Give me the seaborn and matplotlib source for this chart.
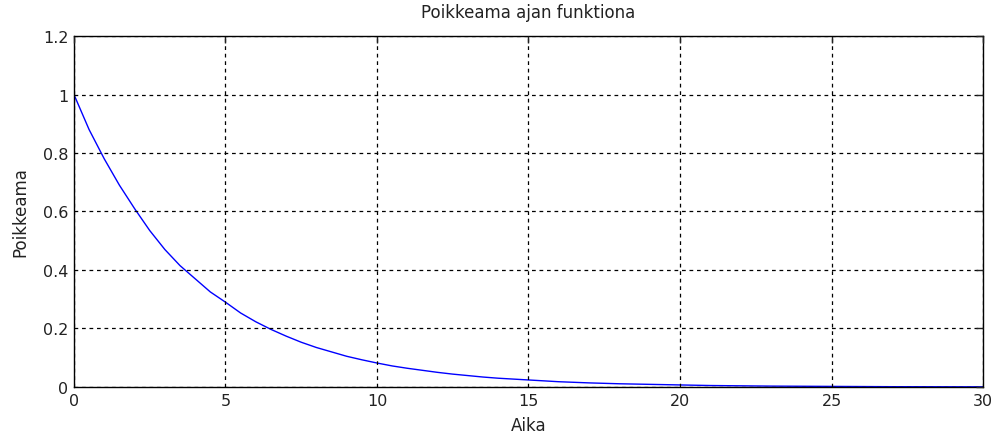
import matplotlib
matplotlib.use("Agg")
import matplotlib.pyplot as plt
import seaborn as sns
import pandas as pd

# Values
aika = [0, 0.5, 1, 1.5, 2, 2.5, 3, 3.5, 4, 4.5, 5, 5.5, 6, 6.5, 7, 7.5, 8, 8.5,
        9, 9.5, 10, 10.5, 11, 11.5, 12, 12.5, 13, 13.5, 14, 14.5, 15,
        16, 17, 18, 19, 20, 21, 22, 23, 24, 25, 26, 27, 28, 29, 30]
poikkeama = [1.0, 0.88, 0.78, 0.69, 0.61, 0.535, 0.47, 0.415, 0.37, 0.325,
             0.29, 0.253, 0.223, 0.197, 0.174, 0.153, 0.135, 0.12,
             0.105, 0.093, 0.082, 0.072, 0.064, 0.057, 0.050, 0.044, 0.039, 0.034,
             0.030, 0.027, 0.024,
             0.018, 0.014, 0.011, 0.009, 0.007, 0.005, 0.004, 0.003, 0.0025,
             0.002, 0.0015, 0.001, 0.0009, 0.0007, 0.0006]
x_ticks = [0, 5, 10, 15, 20, 25, 30]
x_labels = ["0", "5", "10", "15", "20", "25", "30"]
y_ticks = [0, 0.2, 0.4, 0.6, 0.8, 1.0, 1.2]
y_labels = ["0", "0.2", "0.4", "0.6", "0.8", "1", "1.2"]
title = "Poikkeama ajan funktiona"
xlabel = "Aika"
ylabel = "Poikkeama"

sns.set_style("white")
plt.rcParams['font.family'] = ['DejaVu Sans']

df = pd.DataFrame({"Aika": aika, "Poikkeama": poikkeama})

fig = plt.figure(figsize=(9.98, 4.39), dpi=100)
ax = fig.add_axes([0.0741, 0.1162, 0.9109, 0.7995])
sns.lineplot(data=df, x="Aika", y="Poikkeama", ax=ax, color="#0000ff", linewidth=1.0)

ax.set_xlim(0, 30)
ax.set_ylim(0, 1.2)
ax.set_xticks(x_ticks)
ax.set_xticklabels(x_labels)
ax.set_yticks(y_ticks)
ax.set_yticklabels(y_labels)
ax.grid(True, color="black", linestyle=(0, (3, 3)), linewidth=0.9)
ax.set_axisbelow(False)
ax.tick_params(direction="in", length=5, width=1, labelsize=11.5, colors="#222222",
               top=True, right=True, pad=4)
for s in ax.spines.values():
    s.set_visible(True)
    s.set_color("black")
    s.set_linewidth(1.0)

ax.set_title(title, fontsize=12, pad=14, color="#222222")
ax.set_xlabel(xlabel, fontsize=12, labelpad=6, color="#222222")
ax.set_ylabel(ylabel, fontsize=12, labelpad=10, color="#222222")

fig.savefig("out.png", dpi=100)
